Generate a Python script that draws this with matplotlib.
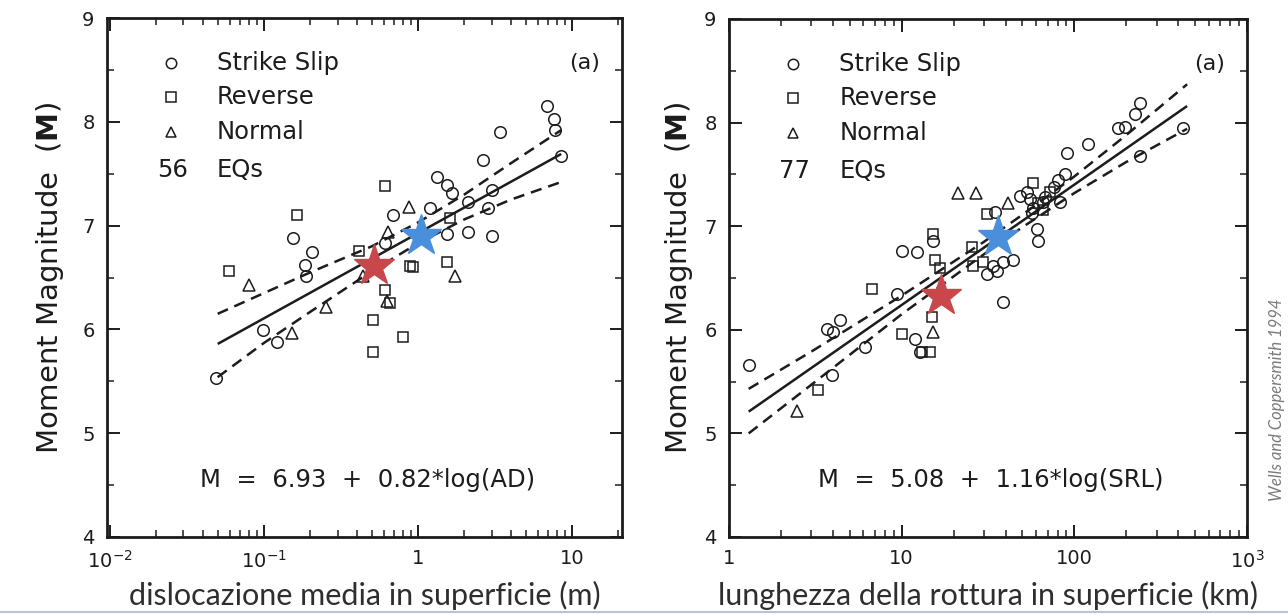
import matplotlib
matplotlib.use("Agg")
import matplotlib.pyplot as plt
from matplotlib.lines import Line2D
from matplotlib.ticker import FixedLocator, FixedFormatter, LogLocator, NullFormatter, MultipleLocator

# ---------------- Left panel data: average displacement (m) vs magnitude ----------------
ad_ss_x = [0.0488, 0.098, 0.122, 0.1535, 0.204, 0.1845, 0.1874, 0.689, 0.611, 1.197,
           1.32, 1.535, 1.655, 1.535, 2.12, 2.12, 2.64, 3.01, 2.85, 3.01,
           3.40, 6.85, 7.64, 7.76, 8.45]
ad_ss_y = [5.53, 5.99, 5.88, 6.88, 6.75, 6.62, 6.51, 7.10, 6.83, 7.17,
           7.47, 7.39, 7.31, 6.92, 7.23, 6.94, 7.63, 7.34, 7.17, 6.90,
           7.90, 8.15, 8.03, 7.92, 7.67]
ad_rev_x = [0.611, 0.163, 0.0593, 0.414, 0.931, 0.887, 1.535, 1.61, 0.611, 0.658, 0.511, 0.80, 0.511]
ad_rev_y = [7.38, 7.10, 6.56, 6.76, 6.60, 6.61, 6.65, 7.07, 6.38, 6.25, 6.09, 5.93, 5.78]
ad_nor_x = [0.080, 0.151, 0.253, 0.44, 0.638, 0.875, 1.74, 0.627]
ad_nor_y = [6.43, 5.97, 6.22, 6.51, 6.94, 7.18, 6.51, 6.27]
ad_fit_x = [0.05, 8.5]
ad_fit_y = [5.86, 7.69]
ad_band_x = [0.05, 0.1, 0.2, 0.5, 1, 2, 4, 8.5]
ad_band_hi = [6.15, 6.35, 6.55, 6.80, 7.03, 7.30, 7.60, 7.92]
ad_band_lo = [5.54, 5.87, 6.17, 6.56, 6.83, 7.06, 7.25, 7.42]
ad_red_star = (0.52, 6.61)
ad_blue_star = (1.05, 6.90)

# ---------------- Right panel data: surface rupture length (km) vs magnitude ----------------
srl_ss_x = [1.31, 3.68, 4.02, 4.39, 3.93, 6.13, 9.35, 11.9, 12.8, 10.0,
            12.2, 15.2, 38.8, 38.8, 44.3, 33.9, 31.0, 35.5, 34.7, 48.4,
            60.5, 61.8, 80.7, 88.3, 82.5, 90.2, 120, 180, 196, 224,
            240, 427, 240, 66, 56.6, 55.3, 53, 68, 76, 58]
srl_ss_y = [5.66, 6.01, 5.98, 6.09, 5.56, 5.83, 6.35, 5.91, 5.79, 6.76,
            6.75, 6.86, 6.27, 6.65, 6.67, 6.62, 6.54, 6.57, 7.14, 7.29,
            6.97, 6.86, 7.45, 7.50, 7.23, 7.71, 7.79, 7.95, 7.96, 8.08,
            8.19, 7.95, 7.68, 7.23, 7.13, 7.26, 7.33, 7.28, 7.38, 7.18]
srl_rev_x = [3.29, 6.70, 10.0, 13.1, 14.6, 14.9, 15.2, 15.6, 16.7, 25.4,
             26.0, 29.7, 31.1, 57.8, 66, 62, 72]
srl_rev_y = [5.42, 6.39, 5.96, 5.79, 5.79, 6.12, 6.92, 6.67, 6.60, 6.80,
             6.62, 6.65, 7.12, 7.42, 7.16, 7.22, 7.33]
srl_nor_x = [2.49, 15.1, 21.3, 26.9, 41.4]
srl_nor_y = [5.22, 5.98, 7.32, 7.32, 7.22]
srl_fit_x = [1.3, 450]
srl_fit_y = [5.21, 8.16]
srl_band_x = [1.3, 3, 10, 30, 50, 100, 200, 450]
srl_band_hi = [5.43, 5.79, 6.33, 6.85, 7.11, 7.48, 7.88, 8.37]
srl_band_lo = [5.00, 5.47, 6.15, 6.73, 6.99, 7.32, 7.62, 7.94]
srl_red_star = (17.0, 6.33)
srl_blue_star = (36.0, 6.90)

left_xticks = [0.01, 0.1, 1, 10]
left_xticklabels = [r'$10^{-2}$', r'$10^{-1}$', '1', '10']
right_xticks = [1, 10, 100, 1000]
right_xticklabels = ['1', '10', '100', r'$10^{3}$']
yticks = [4, 5, 6, 7, 8, 9]

legend_labels = ['Strike Slip', 'Reverse', 'Normal']
left_count = '56'
right_count = '77'
left_eq = 'M  =  6.93  +  0.82*log(AD)'
right_eq = 'M  =  5.08  +  1.16*log(SRL)'
left_xlabel = 'dislocazione media in superficie (m)'
right_xlabel = 'lunghezza della rottura in superficie (km)'
ylabel = r'Moment Magnitude  ($\mathbf{M}$)'
credit = 'Wells and Coppersmith 1994'

INK = '#1c1c1c'
RED = '#C8474B'
BLUE = '#4A8FDC'

fig = plt.figure(figsize=(12.88, 6.15), dpi=100)
fig.patch.set_facecolor('white')

ax1 = fig.add_axes([107/1288, 1 - 537/615, 515/1288, 519/615])
ax2 = fig.add_axes([729/1288, 1 - 537/615, 518/1288, 518/615])

mk = dict(linestyle='none', markerfacecolor='none', markeredgecolor=INK, markeredgewidth=1.1)


def draw_panel(ax, ss_x, ss_y, rv_x, rv_y, nm_x, nm_y, fx, fy, bx, bhi, blo,
               red, blue, xlim, xt, xtl, count, eq, xlabel, ylab_x):
    ax.set_xscale('log')
    ax.set_xlim(*xlim)
    ax.set_ylim(4, 9)
    ax.plot(fx, fy, color=INK, lw=1.8, solid_capstyle='butt', zorder=3)
    ax.plot(bx, bhi, color=INK, lw=1.8, linestyle=(0, (4.5, 2.8)), zorder=3)
    ax.plot(bx, blo, color=INK, lw=1.8, linestyle=(0, (4.5, 2.8)), zorder=3)
    ax.plot(ss_x, ss_y, marker='o', markersize=8.3, **mk, zorder=4)
    ax.plot(rv_x, rv_y, marker='s', markersize=7.8, **mk, zorder=4)
    ax.plot(nm_x, nm_y, marker='^', markersize=8, **mk, zorder=4)
    ax.plot([red[0]], [red[1]], marker='*', markersize=31, color=RED, mec=RED, linestyle='none', zorder=5)
    ax.plot([blue[0]], [blue[1]], marker='*', markersize=31, color=BLUE, mec=BLUE, linestyle='none', zorder=5)

    # legend drawn as text block
    rows = [0.913, 0.847, 0.780]
    for (m, s), y, lab in zip([('o', 7.5), ('s', 7), ('^', 6.5)], rows, legend_labels):
        ax.plot([0.124], [y], marker=m, markersize=s, transform=ax.transAxes, **mk, clip_on=False)
        ax.text(0.213, y, lab, transform=ax.transAxes, fontsize=17.5, va='center', ha='left', color=INK)
    ax.text(0.127, 0.707, count, transform=ax.transAxes, fontsize=17.5, va='center', ha='center', color=INK)
    ax.text(0.213, 0.707, 'EQs', transform=ax.transAxes, fontsize=17.5, va='center', ha='left', color=INK)
    ax.text(0.928, 0.913, '(a)', transform=ax.transAxes, fontsize=16, va='center', ha='center', color=INK)
    ax.text(0.505, 0.11, eq, transform=ax.transAxes, fontsize=17.5, va='center', ha='center', color=INK)

    ax.xaxis.set_major_locator(FixedLocator(xt))
    ax.xaxis.set_major_formatter(FixedFormatter(xtl))
    ax.xaxis.set_minor_locator(LogLocator(base=10, subs=(2, 3, 4, 5, 6, 7, 8, 9), numticks=20))
    ax.xaxis.set_minor_formatter(NullFormatter())
    ax.yaxis.set_major_locator(FixedLocator(yticks))
    ax.yaxis.set_minor_locator(MultipleLocator(0.5))
    ax.tick_params(which='both', direction='in', top=True, right=True, color=INK)
    ax.tick_params(which='major', length=9, width=1.4, labelsize=14, labelcolor=INK)
    ax.tick_params(axis='x', which='major', pad=9)
    ax.tick_params(axis='y', which='major', pad=9)
    ax.tick_params(which='minor', length=5, width=1.1)
    for sp in ax.spines.values():
        sp.set_linewidth(2.0)
        sp.set_color(INK)

    ax.set_ylabel(ylabel, fontsize=21, color=INK, va='center')
    ax.yaxis.set_label_coords(ylab_x, 0.5)
    ax.set_xlabel(xlabel, fontsize=22, family='Lato', color='#2e2e2e', va='center')
    ax.xaxis.set_label_coords(0.5, -0.113)


draw_panel(ax1, ad_ss_x, ad_ss_y, ad_rev_x, ad_rev_y, ad_nor_x, ad_nor_y,
           ad_fit_x, ad_fit_y, ad_band_x, ad_band_hi, ad_band_lo,
           ad_red_star, ad_blue_star, (0.00956, 21.1), left_xticks, left_xticklabels,
           left_count, left_eq, left_xlabel, -0.111)
draw_panel(ax2, srl_ss_x, srl_ss_y, srl_rev_x, srl_rev_y, srl_nor_x, srl_nor_y,
           srl_fit_x, srl_fit_y, srl_band_x, srl_band_hi, srl_band_lo,
           srl_red_star, srl_blue_star, (1.0, 1000), right_xticks, right_xticklabels,
           right_count, right_eq, right_xlabel, -0.096)

fig.text(1277/1288, 1 - 400/615, credit, rotation=90, ha='center', va='center',
         fontstyle='italic', fontsize=12, color='#7a7a7a', family='Lato')
fig.add_artist(Line2D([0, 1], [1 - 612/615, 1 - 612/615], transform=fig.transFigure,
                      color='#b9c4d0', lw=1.5))

fig.savefig('out.png', dpi=100, facecolor='white')
